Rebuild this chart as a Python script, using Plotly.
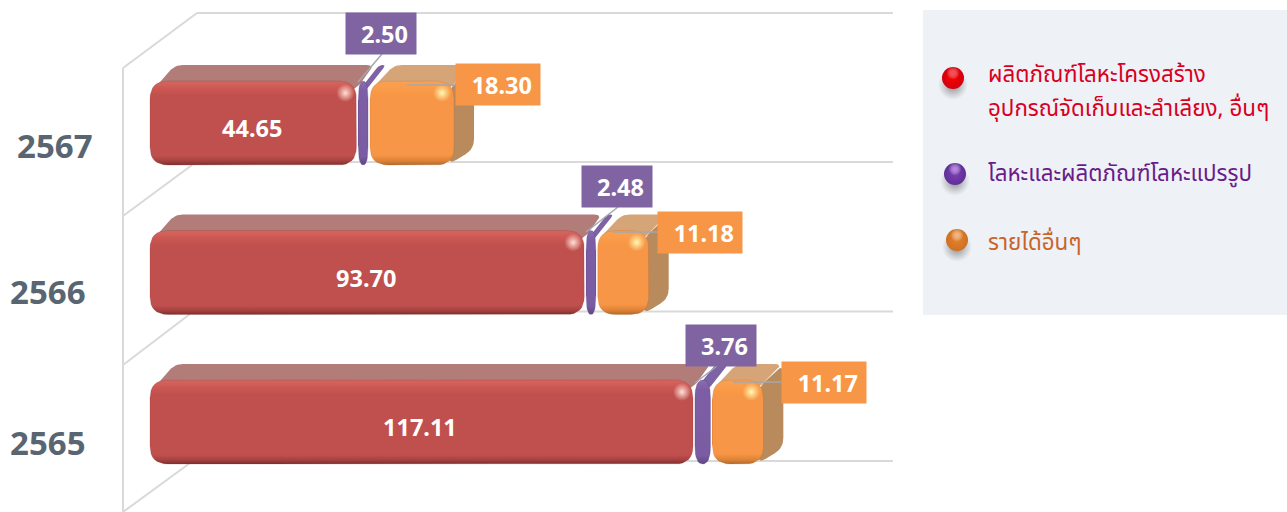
import plotly.graph_objects as go

# ---- data ----
YEARS = ["2567", "2566", "2565"]
STRUCTURE = [44.65, 93.70, 117.11]
PROCESSED = [2.50, 2.48, 3.76]
OTHER = [18.30, 11.18, 11.17]
LEGEND_LINES = ["ผลิตภัณฑ์โลหะโครงสร้าง", "อุปกรณ์จัดเก็บและลำเลียง, อื่นๆ",
                "โลหะและผลิตภัณฑ์โลหะแปรรูป", "รายได้อื่นๆ"]

# ---- canvas / scale (px per data unit) ----
W, H = 1287, 512
PX0, KX = 150.0, 4.645       # pixel of value 0; pixels per value unit
PY_TOP_CAT, KY = 123.0, 149.5  # pixel of category index 2; pixels per category
BAR_PX = 84.0
DEPTH_X, DEPTH_Y = 20.0, 16.0
RADIUS = 18.0

def vx(px): return (px - PX0) / KX
def vy(py): return 2 + (PY_TOP_CAT - py) / KY
def hx(px): return px / W
def hy(py): return 1 - py / H

# gradient stops run from the bar's bottom (0) to its top (1)
RED = dict(front=[[0, "#7f2f2d"], [0.05, "#a64240"], [0.11, "#c0504d"], [0.83, "#c0504d"], [0.9, "#cb5652"], [1, "#d66660"]],
           top="#b27c79", edge="rgba(120,40,38,0.2)")
PUR = dict(front=[[0, "#5f4685"], [0.1, "#7a5ca2"], [0.88, "#7d5ea6"], [1, "#8a6cb0"]],
           top="#7d62a4", edge="rgba(70,50,110,0.25)")
ORA = dict(front=[[0, "#b26a2d"], [0.05, "#dd8236"], [0.12, "#f79646"], [0.82, "#f79646"], [0.9, "#fa9b49"], [1, "#f9a155"]],
           top="#d6a577", side="#b98a5c", edge="rgba(170,95,35,0.2)")

def rounded(points, r):
    """Round polygon corners; points are in data units, r in pixels."""
    out, n = [], len(points)
    for i in range(n):
        p, a, b = points[i], points[i - 1], points[(i + 1) % n]
        def toward(q):
            dx, dy = (q[0] - p[0]) * KX, (q[1] - p[1]) * KY
            d = (dx * dx + dy * dy) ** 0.5 or 1
            t = min(r, d / 2) / d
            return (p[0] + (q[0] - p[0]) * t, p[1] + (q[1] - p[1]) * t)
        s, e = toward(a), toward(b)
        for k in range(9):
            t = k / 8
            out.append(((1 - t) ** 2 * s[0] + 2 * t * (1 - t) * p[0] + t * t * e[0],
                        (1 - t) ** 2 * s[1] + 2 * t * (1 - t) * p[1] + t * t * e[1]))
    out.append(out[0])
    return [q[0] for q in out], [q[1] for q in out]

def poly(points, r, color=None, style=None):
    x, y = rounded(points, r)
    if color:
        kw = dict(fillcolor=color, line=dict(width=0))
    else:
        kw = dict(fillgradient=dict(type="vertical", colorscale=style["front"]), line=dict(width=1, color=style["edge"]))
    return go.Scatter(x=x, y=y, mode="lines", fill="toself", hoverinfo="skip", showlegend=False, **kw)

fig = go.Figure()
cats = [2 - i for i in range(len(YEARS))]
half = BAR_PX / 2 / KY
dx, dy = DEPTH_X / KX, DEPTH_Y / KY
p1 = 1.0 / KX

# real stacked bars carry the data; rounded faces are layered on top of them
for name, vals, col in [("structure", STRUCTURE, "#c0504d"), ("processed", PROCESSED, "#7d5ea6"), ("other", OTHER, "#f79646")]:
    fig.add_trace(go.Bar(y=cats, x=vals, name=name, orientation="h", width=(BAR_PX - 2 * RADIUS) / KY,
                         marker=dict(color=col, line=dict(color="white", width=2)), showlegend=False))

for i, c in enumerate(cats):
    a0 = 0.0
    a1 = STRUCTURE[i]
    a2 = a1 + PROCESSED[i]
    a3 = a2 + OTHER[i]
    top, bot = c + half, c - half
    under = 9 / KY
    # back faces
    fig.add_trace(poly([(a3 - 6 * p1, top - under), (a3 + dx, top + dy),
                        (a3 + dx, bot + dy), (a3 - 6 * p1, bot)], 10, color=ORA["side"]))
    fig.add_trace(poly([(a2 + 2 * p1, top - under), (a3 - 6 * p1, top - under),
                        (a3 + dx - 1 * p1, top + dy), (a2 + dx + 5 * p1, top + dy)], 8, color=ORA["top"]))
    fig.add_trace(poly([(a0 + 3 * p1, top - under), (a1 - 2 * p1, top - under),
                        (a1 + dx - 3 * p1, top + dy), (a0 + dx + 5 * p1, top + dy)], 8, color=RED["top"]))
    fig.add_trace(poly([(a1 + 2 * p1, top - under), (a2 - 3 * p1, top - under),
                        (a2 + dx - 3 * p1, top + dy), (a1 + dx + 2 * p1, top + dy)], 4, color=PUR["top"]))
    # rounded fronts
    fig.add_trace(poly([(a0, bot), (a1 - p1, bot), (a1 - p1, top), (a0, top)], RADIUS, style=RED))
    fig.add_trace(poly([(a1 + p1, bot), (a2 - p1, bot), (a2 - p1, top), (a1 + p1, top)], RADIUS, style=PUR))
    fig.add_trace(poly([(a2 + p1, bot), (a3, bot), (a3, top), (a2 + p1, top)], RADIUS, style=ORA))

    # specular spots
    fig.add_trace(go.Scatter(x=[a1 - 12 * p1, a3 - 12 * p1], y=[top - 12 / KY, top - 12 / KY], mode="markers", hoverinfo="skip", showlegend=False,
                             marker=dict(size=18, color=["rgba(255,225,215,0)", "rgba(255,240,170,0)"],
                                         gradient=dict(type="radial", color=["rgba(255,225,215,1)", "rgba(255,250,180,1)"]), line=dict(width=0))))

# ---- pixel layout of labels (separate from the data) ----
PUR_BOX = [(381, 33.5), (617, 186.5), (721, 345.5)]
ORA_BOX = [(498, 84.5), (700, 232), (824, 382.5)]
PUR_LEAD = [(382, 54, 358, 82), (618, 207, 586, 232), (717, 366, 695, 383)]
ORA_LEAD = [(407, 85, 456, 85), (613, 232, 658, 232), (733, 382, 782, 382)]
YEAR_PX = [(55, 145), (48, 291), (48, 442)]

for (x0, y0, x1, y1) in PUR_LEAD + ORA_LEAD:
    fig.add_trace(go.Scatter(x=[vx(x0), vx(x1)], y=[vy(y0), vy(y1)], mode="lines", hoverinfo="skip", showlegend=False,
                             line=dict(color="#a3a8ae", width=1.5)))

annotations = []
for i, c in enumerate(cats):
    annotations.append(dict(x=STRUCTURE[i] / 2 - 2 / KX, y=c, yshift=-5, text=f"<b>{STRUCTURE[i]:.2f}</b>", showarrow=False,
                            font=dict(family="Noto Sans", size=23.5, color="white")))
    for val, box, w, col in [(PROCESSED[i], PUR_BOX[i], 54, "#8064a2"), (OTHER[i], ORA_BOX[i], 68, "#f79646")]:
        annotations.append(dict(x=vx(box[0]), y=vy(box[1]), text=f"<b>{val:.2f}</b>", showarrow=False, align="right",
                                width=w, height=25, borderpad=8, bgcolor=col,
                                font=dict(family="Noto Sans", size=23.5, color="white")))
    annotations.append(dict(xref="paper", x=hx(YEAR_PX[i][0]), yref="paper", y=hy(YEAR_PX[i][1]), xanchor="center", yanchor="middle",
                            text=f"<b>{YEARS[i]}</b>", showarrow=False,
                            font=dict(family="Noto Sans", size=33, color="#5a6572")))

# legend (custom panel)
LEG_TXT = [(986, 75), (986, 109), (986, 174), (986, 243)]
LEG_TXT_COL = ["#d8001e", "#d8001e", "#6a1b8a", "#c9642a"]
LEG_DOT = [(953, 78), (955, 174), (957, 240)]
DOT_BASE = ["#f70000", "#7c3fb2", "#e5812f"]
DOT_EDGE = ["#d2000f", "#5f2f98", "#cf7022"]
DOT_HI = ["rgba(255,90,90,0.8)", "rgba(195,135,245,0.9)", "rgba(250,190,130,0.9)"]
for line, (tx, ty), col in zip(LEGEND_LINES, LEG_TXT, LEG_TXT_COL):
    annotations.append(dict(xref="paper", yref="paper", x=hx(tx), y=hy(ty), xanchor="left", yanchor="middle", align="left",
                            text=line, showarrow=False, font=dict(family="Noto Sans Thai, Noto Sans, sans-serif", size=22.4, color=col)))
for i, (px, py) in enumerate(LEG_DOT):
    fig.add_trace(go.Scatter(x=[vx(px)], y=[vy(py + 7)], mode="markers", hoverinfo="skip", showlegend=False,
                             marker=dict(size=30, color="rgba(120,120,120,0)", gradient=dict(type="radial", color="rgba(80,80,80,0.7)"), line=dict(width=0))))
    fig.add_trace(go.Scatter(x=[vx(px)], y=[vy(py)], mode="markers", hoverinfo="skip", showlegend=False,
                             marker=dict(size=22, color=DOT_EDGE[i], gradient=dict(type="radial", color=DOT_BASE[i]), line=dict(width=0))))
    fig.add_trace(go.Scatter(x=[vx(px)], y=[vy(py - 5)], mode="markers", hoverinfo="skip", showlegend=False,
                             marker=dict(size=13, color="rgba(255,255,255,0)", gradient=dict(type="radial", color=DOT_HI[i]), line=dict(width=0))))

GRID = "#d9d9d9"
frame = [(197, 13, 893, 13), (197, 13, 123, 68), (123, 68, 123, 512),
         (192, 162, 893, 162), (192, 165, 123, 216),
         (192, 311.5, 893, 311.5), (190, 314, 123, 365),
         (192, 461, 893, 461), (190, 463, 123, 512)]
shapes = [dict(type="rect", xref="paper", yref="paper", x0=hx(923), x1=hx(1287), y0=hy(315), y1=hy(10),
               fillcolor="#eef1f6", line=dict(width=0), layer="below")]
for (x0, y0, x1, y1) in frame:
    shapes.append(dict(type="line", xref="paper", yref="paper", x0=hx(x0), x1=hx(x1), y0=hy(y0), y1=hy(y1),
                       line=dict(color=GRID, width=2), layer="below"))

fig.update_layout(
    width=W, height=H, margin=dict(l=0, r=0, t=0, b=0), barmode="stack", bargap=0,
    paper_bgcolor="white", plot_bgcolor="rgba(0,0,0,0)", showlegend=False,
    xaxis=dict(range=[vx(0), vx(W)], visible=False, fixedrange=True),
    yaxis=dict(range=[vy(H), vy(0)], visible=False, fixedrange=True),
    annotations=annotations, shapes=shapes,
)
fig.write_html("out.html", config=dict(displayModeBar=False),
               post_script="document.body.style.margin='0';document.body.style.overflow='hidden';")
